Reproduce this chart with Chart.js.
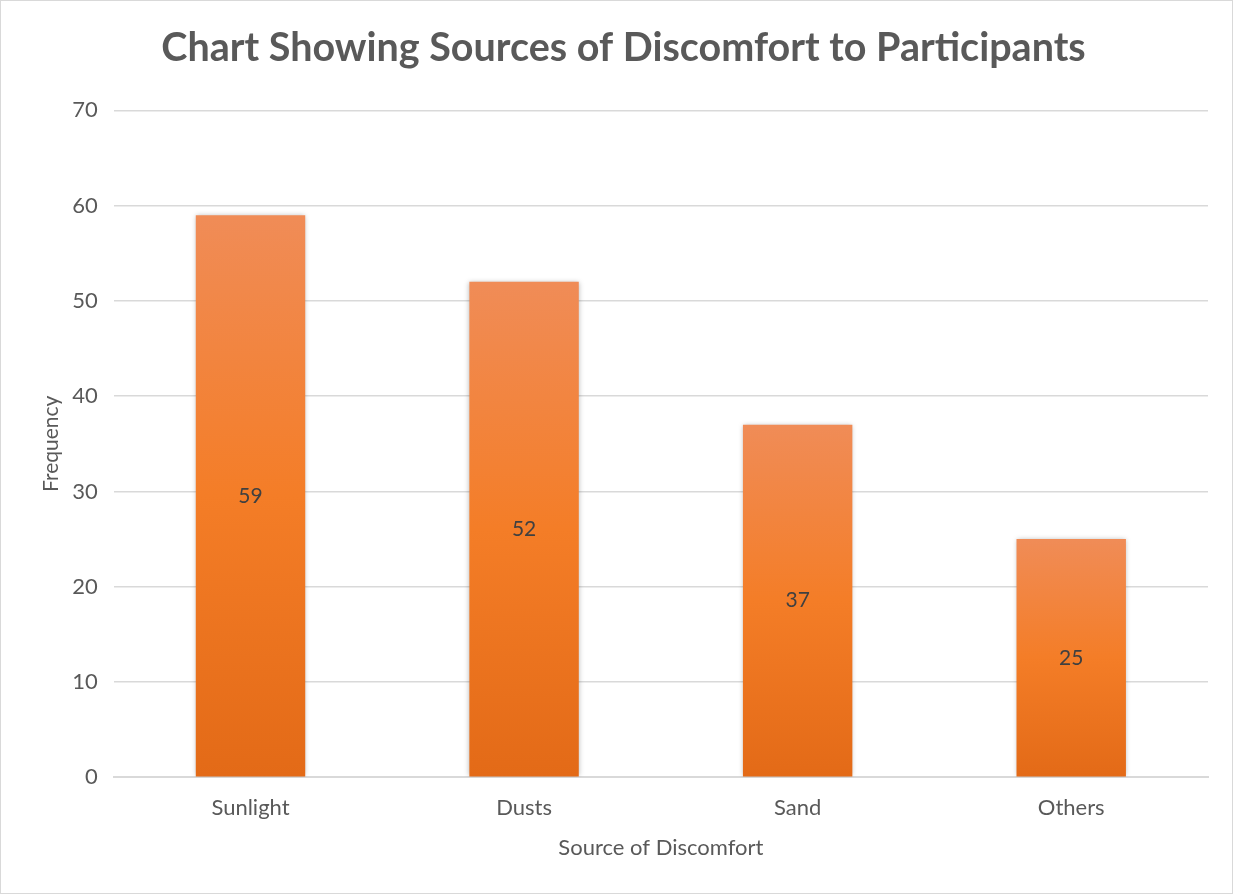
<!DOCTYPE html>
<html>
<head>
<meta charset="utf-8">
<title>Sources of Discomfort</title>
<script src="https://cdn.jsdelivr.net/npm/chart.js@4/dist/chart.umd.min.js"></script>
<style>
  html, body { margin: 0; padding: 0; background: #fff; }
  #frame {
    position: absolute; left: 0; top: 0;
    width: 1231px; height: 892px;
    border: 1px solid #d9d9d9;
  }
  canvas { display: block; }
</style>
</head>
<body>
<div id="frame"><canvas id="chart"></canvas></div>
<script>
// categories and counts
const categories = ["Sunlight", "Dusts", "Sand", "Others"];
const frequency = [59, 52, 37, 25];
const yTicks = [0, 10, 20, 30, 40, 50, 60, 70];

const FONT = "Lato, 'Open Sans', sans-serif";
const GREY = "#595959";

// vertical gradient for each bar, light on top and darker at the base
function barFill(ctx) {
  const chart = ctx.chart;
  if (!chart.chartArea || !chart.scales.y) return "#ED7D31";
  const y = chart.scales.y;
  const top = y.getPixelForValue(frequency[ctx.dataIndex]);
  const bottom = y.getPixelForValue(0);
  const g = chart.ctx.createLinearGradient(0, top, 0, bottom);
  g.addColorStop(0, "#F08C57");
  g.addColorStop(0.5, "#F47D27");
  g.addColorStop(1, "#E36A17");
  return g;
}

// soft shadow behind the bars
const barShadow = {
  id: "barShadow",
  beforeDatasetsDraw(chart) {
    const c = chart.ctx;
    c.save();
    c.shadowColor = "rgba(0,0,0,0.28)";
    c.shadowBlur = 5;
    c.shadowOffsetX = 0;
    c.shadowOffsetY = 0;
  },
  afterDatasetsDraw(chart) {
    chart.ctx.restore();
  }
};

// value written in the middle of each bar
const midLabels = {
  id: "midLabels",
  afterDatasetsDraw(chart) {
    const c = chart.ctx;
    const meta = chart.getDatasetMeta(0);
    c.save();
    c.font = "21px " + FONT;
    c.fillStyle = "#404040";
    c.textAlign = "center";
    c.textBaseline = "middle";
    meta.data.forEach((bar, i) => {
      c.fillText(String(frequency[i]), bar.x, (bar.y + bar.base) / 2);
    });
    c.restore();
  }
};

new Chart(document.getElementById("chart"), {
  type: "bar",
  data: {
    labels: categories,
    datasets: [{
      data: frequency,
      backgroundColor: barFill,
      borderWidth: 0,
      barPercentage: 0.4,
      categoryPercentage: 1
    }]
  },
  options: {
    responsive: true,
    maintainAspectRatio: false,
    animation: false,
    layout: { padding: { left: 38, right: 24, top: 10, bottom: 28 } },
    plugins: {
      legend: { display: false },
      tooltip: { enabled: false },
      title: {
        display: true,
        text: "Chart Showing Sources of Discomfort to Participants",
        color: GREY,
        font: { family: FONT, size: 39.5, weight: "bold" },
        padding: { top: 14, bottom: 38 }
      }
    },
    scales: {
      x: {
        grid: { display: false, drawTicks: false },
        border: { display: true, color: "#d9d9d9", width: 2 },
        ticks: { color: GREY, font: { family: FONT, size: 22 }, padding: 18 },
        title: {
          display: true,
          text: "Source of Discomfort",
          color: GREY,
          font: { family: FONT, size: 22 },
          padding: { top: -5, bottom: 4 }
        }
      },
      y: {
        min: yTicks[0],
        max: yTicks[yTicks.length - 1],
        afterBuildTicks(axis) {
          axis.ticks = yTicks.map(v => ({ value: v }));
        },
        grid: { color: "#d9d9d9", lineWidth: 1.5, drawTicks: false },
        border: { display: false },
        ticks: { color: GREY, font: { family: FONT, size: 22 }, padding: 16 },
        title: {
          display: true,
          text: "Frequency",
          color: GREY,
          font: { family: FONT, size: 21 },
          padding: { top: 0, bottom: -8 }
        }
      }
    }
  },
  plugins: [barShadow, midLabels]
});
</script>
</body>
</html>
